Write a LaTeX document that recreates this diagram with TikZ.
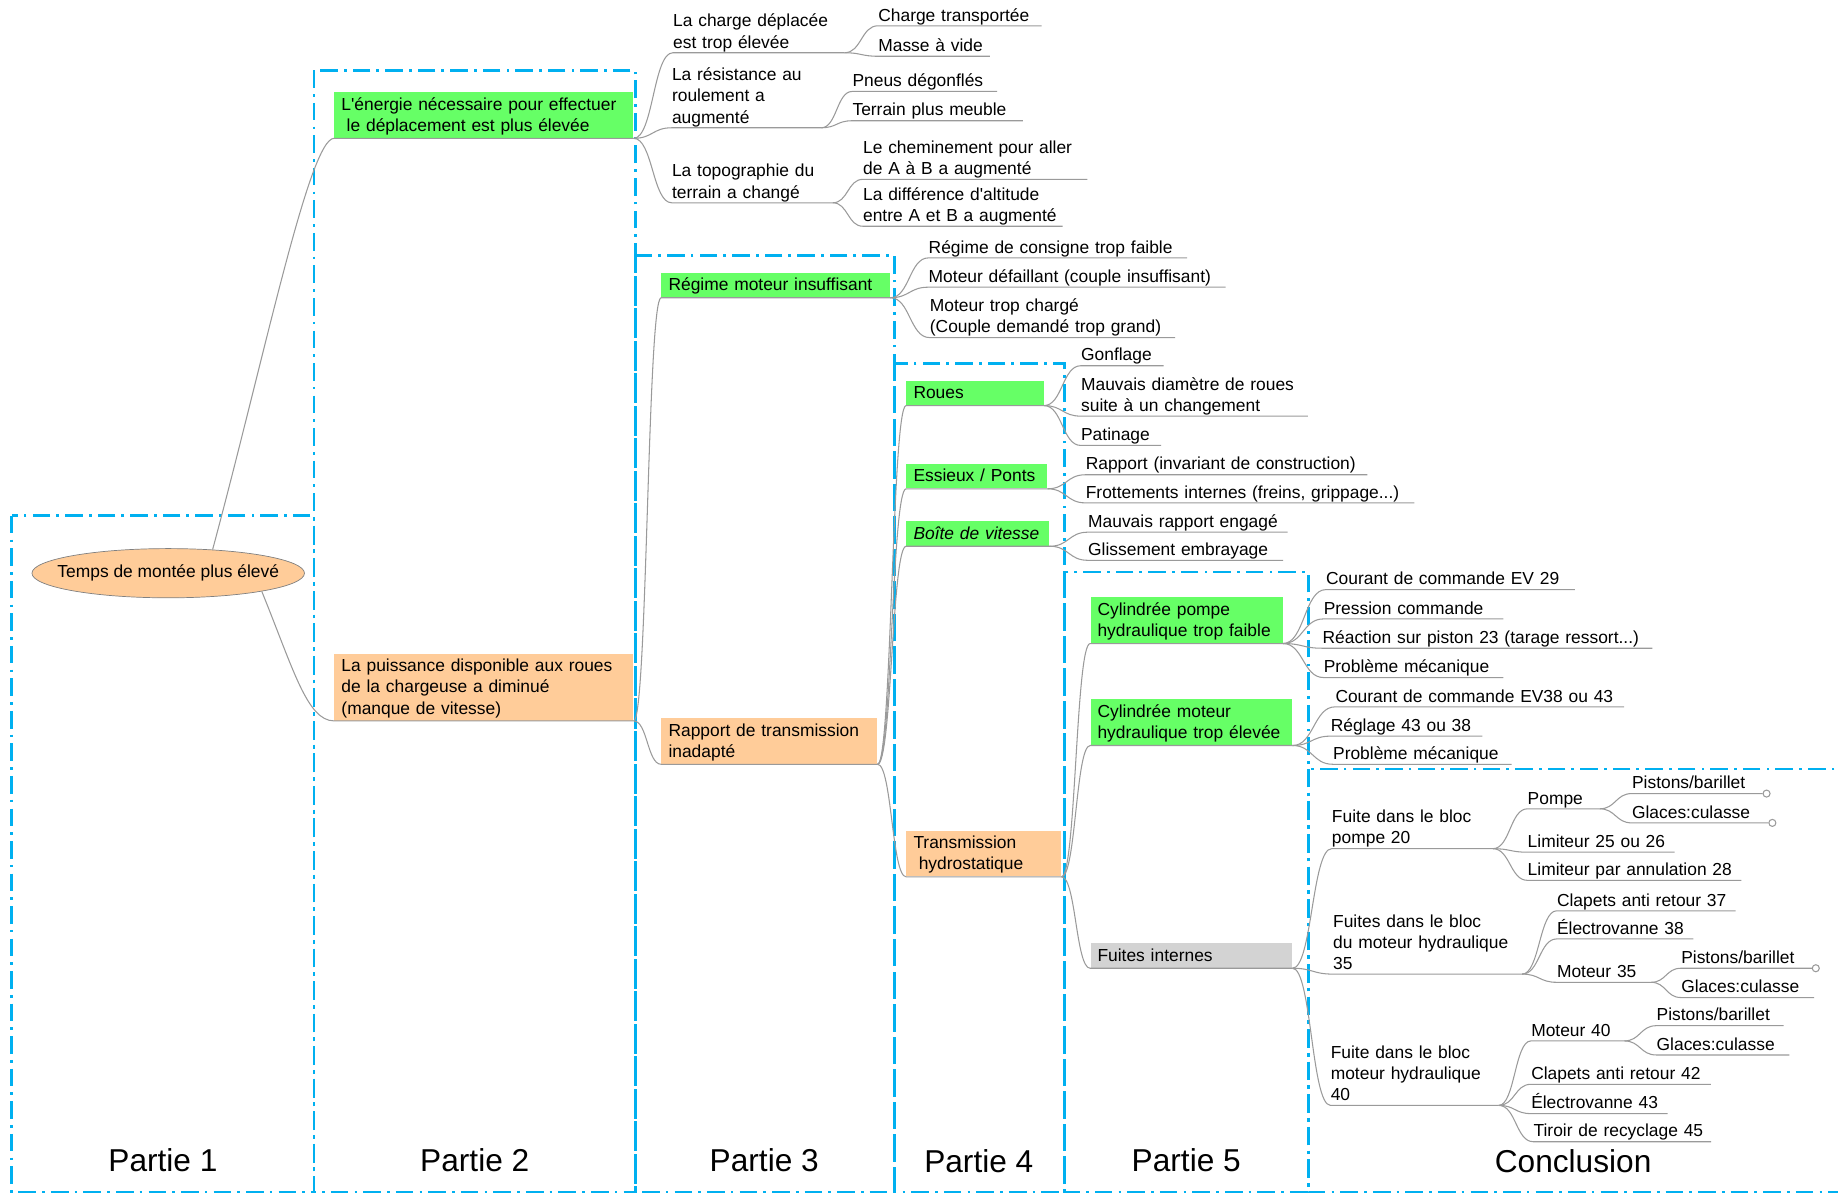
\documentclass[tikz,border=0pt]{standalone}
\usepackage{fontspec}
\setmainfont{Liberation Sans}
\usetikzlibrary{shapes.geometric,calc}
\definecolor{bleu}{HTML}{00B0F0}
\definecolor{vert}{HTML}{66FF66}
\definecolor{peche}{HTML}{FFCC99}
\definecolor{grisbox}{HTML}{D3D3D3}
\definecolor{trait}{HTML}{9A9A9A}
\begin{document}
\begin{tikzpicture}[x=0.6667pt,y=-0.6667pt,
  txt/.style={font=\fontsize{9.9}{12}\selectfont},
  zone/.style={draw=bleu, line width=1.5pt, dash pattern=on 10pt off 3.5pt on 1.5pt off 3.5pt},
  partlabel/.style={font=\fontsize{18}{22}\selectfont},
  rootnode/.style={txt, ellipse, draw=gray, fill=peche, minimum width=155pt, minimum height=28pt, inner sep=0pt},
  leaf/.style={txt, anchor=south west, inner xsep=0pt, inner ysep=0pt, align=left, text width=#1,
    execute at end node={\rule[-2.5pt]{0pt}{2.5pt}}},
  branchbox/.style={txt, anchor=south west, inner xsep=4pt, inner ysep=1.2pt, align=left, text width=#1,
    execute at begin node={\rule{0pt}{9.1pt}}, execute at end node={\rule[-2.5pt]{0pt}{2.5pt}}},
  knob/.style={circle, draw=trait, fill=white, inner sep=0pt, minimum size=4pt, anchor=west},
  link/.style={draw=trait, line width=0.6pt,
    to path={let \p1=(\tikztostart), \p2=(\tikztotarget) in
      .. controls ({(\x1+\x2)/2},\y1) and ({(\x1+\x2)/2},\y2) .. (\p2) \tikztonodes}}]
\useasboundingbox (0,0) rectangle (1568,1019);

\path[zone] (10,440) rectangle (268,1017);
\path[zone] (268,60) rectangle (542,1017);
\path[zone] (542,218) rectangle (763,1017);
\path[zone] (763,310) rectangle (908,1017);
\path[zone] (908,488) rectangle (1116,1017);
\path[zone] (1116,656) rectangle (1600,1017);

\node[partlabel] (p1) at (139,990) {Partie 1};
\node[partlabel] (p2) at (405,990) {Partie 2};
\node[partlabel] (p3) at (652,990) {Partie 3};
\node[partlabel] (p4) at (835,991) {Partie 4};
\node[partlabel] (p5) at (1012,990) {Partie 5};
\node[partlabel] (p6) at (1342,991) {Conclusion};

\node[rootnode] (temps) at (143.5,489) {\makebox[0pt]{Temps de montée plus élevé}};

\node[branchbox=162pt, fill=vert] (energie) at (285,118) {L\textquotesingle énergie nécessaire pour effectuer\\\hspace*{3pt}le déplacement est plus élevée};
\node[branchbox=162pt, fill=peche] (puissance) at (285,615) {La puissance disponible aux roues\\de la chargeuse a diminué\\(manque de vitesse)};

\node[leaf=97.3pt] (charge) at (574,45) {La charge déplacée\\est trop élevée};
\node[leaf=84.7pt] (resist) at (573,109) {La résistance au\\roulement a\\augmenté};
\node[leaf=91.3pt] (topo) at (573,173) {La topographie du\\terrain a changé};
\node[leaf=92.7pt] (transp) at (749,22) {Charge transportée};
\node[leaf=63.3pt] (vide) at (749,48) {Masse à vide};
\node[leaf=82pt] (pneus) at (727,78) {Pneus dégonflés};
\node[leaf=96.7pt] (meuble) at (727,103) {Terrain plus meuble};
\node[leaf=127.3pt] (chemin) at (736,153) {Le cheminement pour aller\\de A à B a augmenté};
\node[leaf=113.3pt] (altitude) at (736,193) {La différence d\textquotesingle altitude\\entre A et B a augmenté};

\node[branchbox=122pt, fill=vert] (regime) at (564,254) {Régime moteur insuffisant};
\node[branchbox=114.7pt, fill=peche] (rapport) at (564,652) {Rapport de transmission\\inadapté};

\node[leaf=146.7pt] (consigne) at (792,220) {Régime de consigne trop faible};
\node[leaf=168.7pt] (defaill) at (792,245) {Moteur défaillant (couple insuffisant)};
\node[leaf=139.3pt] (surcharge) at (793,288) {Moteur trop chargé\\(Couple demandé trop grand)};

\node[branchbox=70pt, fill=vert] (roues) at (773,346) {Roues};
\node[branchbox=72pt, fill=vert] (essieux) at (773,417) {Essieux / Ponts};
\node[branchbox=73.3pt, fill=vert] (boite) at (773,466) {\itshape Boîte de vitesse};
\node[branchbox=80pt, fill=peche] (hydro) at (773,748) {Transmission\\\hspace*{3pt}hydrostatique};

\node[leaf=46.7pt] (gonflage) at (922,312) {Gonflage};
\node[leaf=128.7pt] (diametre) at (922,355) {Mauvais diamètre de roues\\suite à un changement};
\node[leaf=45.3pt] (patinage) at (922,380) {Patinage};
\node[leaf=160pt] (invariant) at (926,405) {Rapport (invariant de construction)};
\node[leaf=186.7pt] (frott) at (926,429) {Frottements internes (freins, grippage...)};
\node[leaf=113.3pt] (mauvais) at (928,454) {Mauvais rapport engagé};
\node[leaf=110.7pt] (glisse) at (928,478) {Glissement embrayage};

\node[branchbox=101.3pt, fill=vert] (cylpompe) at (930,549) {Cylindrée pompe\\hydraulique trop faible};
\node[branchbox=106.7pt, fill=vert] (cylmoteur) at (930,636) {Cylindrée moteur\\hydraulique trop élevée};
\node[branchbox=106.7pt, fill=grisbox] (fuites) at (930,826) {Fuites internes};

\node[leaf=141.3pt] (ev29) at (1131,503) {Courant de commande EV 29};
\node[leaf=102pt] (pression) at (1129,528) {Pression commande};
\node[leaf=187.3pt] (reaction) at (1128,553) {Réaction sur piston 23 (tarage ressort...)};
\node[leaf=102pt] (mecapompe) at (1129,578) {Problème mécanique};
\node[leaf=164pt] (ev38) at (1139,603) {Courant de commande EV38 ou 43};
\node[leaf=86pt] (reglage) at (1135,628) {Réglage 43 ou 38};
\node[leaf=101.3pt] (mecamoteur) at (1137,652) {Problème mécanique};

\node[leaf=91.3pt] (bloc20) at (1136,724) {Fuite dans le bloc\\pompe 20};
\node[leaf=107.3pt] (bloc35) at (1137,831) {Fuites dans le bloc\\du moteur hydraulique\\35};
\node[leaf=95.3pt] (bloc40) at (1135,943) {Fuite dans le bloc\\moteur hydraulique\\40};

\node[leaf=40.7pt] (pompe) at (1303,690) {Pompe};
\node[leaf=83.3pt] (lim25) at (1303,727) {Limiteur 25 ou 26};
\node[leaf=121.3pt] (lim28) at (1303,751) {Limiteur par annulation 28};
\node[leaf=74pt] (pist1) at (1392,677) {Pistons/barillet};
\node[leaf=77.3pt] (glace1) at (1392,702) {Glaces:culasse};
\node[leaf=101.3pt] (clap37) at (1328,777) {Clapets anti retour 37};
\node[leaf=77.3pt] (ev38b) at (1328,801) {Électrovanne 38};
\node[leaf=53.3pt] (mot35) at (1328,838) {Moteur 35};
\node[leaf=74pt] (pist2) at (1434,826) {Pistons/barillet};
\node[leaf=75.3pt] (glace2) at (1434,851) {Glaces:culasse};
\node[leaf=52.7pt] (mot40) at (1306,888) {Moteur 40};
\node[leaf=102pt] (clap42) at (1306,925) {Clapets anti retour 42};
\node[leaf=77.3pt] (ev43) at (1306,950) {Électrovanne 43};
\node[leaf=100.7pt] (tiroir) at (1308,974) {Tiroir de recyclage 45};
\node[leaf=72pt] (pist3) at (1413,875) {Pistons/barillet};
\node[leaf=75.3pt] (glace3) at (1413,900) {Glaces:culasse};

\path[draw,link] (temps.28) .. controls (226,303) and (264,118) .. (energie.south west) -- (energie.south east);
\path[draw,link] (temps.-11) .. controls (250,570) and (262,615) .. (puissance.south west) -- (puissance.south east);

\path[draw,link] (energie.south east) to (charge.south west) -- (charge.south east);
\path[draw,link] (energie.south east) to (resist.south west) -- (resist.south east);
\path[draw,link] (energie.south east) to (topo.south west) -- (topo.south east);
\path[draw,link] (charge.south east) to (transp.south west) -- (transp.south east);
\path[draw,link] (charge.south east) to (vide.south west) -- (vide.south east);
\path[draw,link] (resist.south east) to (pneus.south west) -- (pneus.south east);
\path[draw,link] (resist.south east) to (meuble.south west) -- (meuble.south east);
\path[draw,link] (topo.south east) to (chemin.south west) -- (chemin.south east);
\path[draw,link] (topo.south east) to (altitude.south west) -- (altitude.south east);

\path[draw,link] (puissance.south east) to (regime.south west) -- (regime.south east);
\path[draw,link] (puissance.south east) to (rapport.south west) -- (rapport.south east);
\path[draw,link] (regime.south east) to (consigne.south west) -- (consigne.south east);
\path[draw,link] (regime.south east) to (defaill.south west) -- (defaill.south east);
\path[draw,link] (regime.south east) to (surcharge.south west) -- (surcharge.south east);

\path[draw,link] (rapport.south east) to (roues.south west) -- (roues.south east);
\path[draw,link] (rapport.south east) to (essieux.south west) -- (essieux.south east);
\path[draw,link] (rapport.south east) to (boite.south west) -- (boite.south east);
\path[draw,link] (rapport.south east) to (hydro.south west) -- (hydro.south east);
\path[draw,link] (roues.south east) to (gonflage.south west) -- (gonflage.south east);
\path[draw,link] (roues.south east) to (diametre.south west) -- (diametre.south east);
\path[draw,link] (roues.south east) to (patinage.south west) -- (patinage.south east);
\path[draw,link] (essieux.south east) to (invariant.south west) -- (invariant.south east);
\path[draw,link] (essieux.south east) to (frott.south west) -- (frott.south east);
\path[draw,link] (boite.south east) to (mauvais.south west) -- (mauvais.south east);
\path[draw,link] (boite.south east) to (glisse.south west) -- (glisse.south east);

\path[draw,link] (hydro.south east) to (cylpompe.south west) -- (cylpompe.south east);
\path[draw,link] (hydro.south east) to (cylmoteur.south west) -- (cylmoteur.south east);
\path[draw,link] (hydro.south east) to (fuites.south west) -- (fuites.south east);
\path[draw,link] (cylpompe.south east) to (ev29.south west) -- (ev29.south east);
\path[draw,link] (cylpompe.south east) to (pression.south west) -- (pression.south east);
\path[draw,link] (cylpompe.south east) to (reaction.south west) -- (reaction.south east);
\path[draw,link] (cylpompe.south east) to (mecapompe.south west) -- (mecapompe.south east);
\path[draw,link] (cylmoteur.south east) to (ev38.south west) -- (ev38.south east);
\path[draw,link] (cylmoteur.south east) to (reglage.south west) -- (reglage.south east);
\path[draw,link] (cylmoteur.south east) to (mecamoteur.south west) -- (mecamoteur.south east);

\path[draw,link] (fuites.south east) to (bloc20.south west) -- (bloc20.south east);
\path[draw,link] (fuites.south east) to (bloc35.south west) -- (bloc35.south east);
\path[draw,link] (fuites.south east) to (bloc40.south west) -- (bloc40.south east);
\path[draw,link] (bloc20.south east) to (pompe.south west) -- (pompe.south east);
\path[draw,link] (bloc20.south east) to (lim25.south west) -- (lim25.south east);
\path[draw,link] (bloc20.south east) to (lim28.south west) -- (lim28.south east);
\path[draw,link] (pompe.south east) to (pist1.south west) -- (pist1.south east) node[knob] (k1) {};
\path[draw,link] (pompe.south east) to (glace1.south west) -- (glace1.south east) node[knob] (k2) {};
\path[draw,link] (bloc35.south east) to (clap37.south west) -- (clap37.south east);
\path[draw,link] (bloc35.south east) to (ev38b.south west) -- (ev38b.south east);
\path[draw,link] (bloc35.south east) to (mot35.south west) -- (mot35.south east);
\path[draw,link] (mot35.south east) to (pist2.south west) -- (pist2.south east) node[knob] (k3) {};
\path[draw,link] (mot35.south east) to (glace2.south west) -- (glace2.south east);
\path[draw,link] (bloc40.south east) to (mot40.south west) -- (mot40.south east);
\path[draw,link] (bloc40.south east) to (clap42.south west) -- (clap42.south east);
\path[draw,link] (bloc40.south east) to (ev43.south west) -- (ev43.south east);
\path[draw,link] (bloc40.south east) to (tiroir.south west) -- (tiroir.south east);
\path[draw,link] (mot40.south east) to (pist3.south west) -- (pist3.south east);
\path[draw,link] (mot40.south east) to (glace3.south west) -- (glace3.south east);
\end{tikzpicture}
\end{document}
